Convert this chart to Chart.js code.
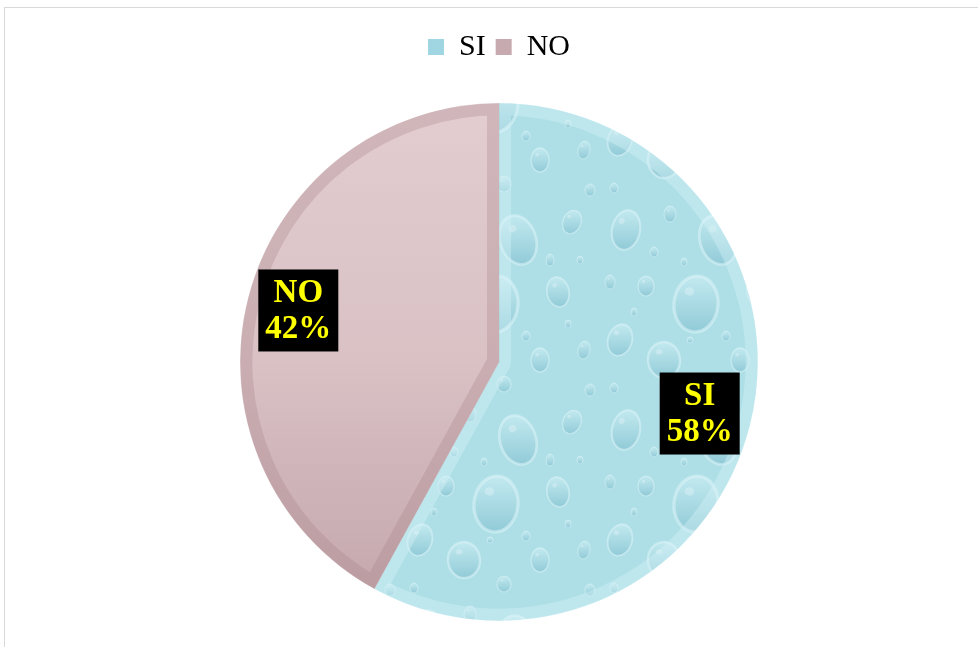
<!DOCTYPE html>
<html>
<head>
<meta charset="utf-8">
<script src="https://cdn.jsdelivr.net/npm/chart.js@4.4.1/dist/chart.umd.min.js"></script>
<style>
    html, body { margin: 0; padding: 0; background: #fff; }
    #frame { position: absolute; left: 4px; top: 7px; width: 974px; height: 640px; border-top: 1px solid #d9d9d9; border-left: 1px solid #d9d9d9; }
    #wrap { position: absolute; left: 0; top: 0; width: 978px; height: 647px; }
</style>
</head>
<body>
<div id="frame"></div>
<div id="wrap"><canvas id="pieChart" width="978" height="647"></canvas></div>
<script>
const categories = ['SI', 'NO'];
const values = [58, 42];

const legendColors = ['#9FD6E1', '#C6AAAF'];
const bevelColors = ['rgba(215, 242, 247, 0.40)', 'rgba(165, 128, 135, 0.30)'];
const serif = '"Liberation Serif", "Times New Roman", Times, serif';

// water drop texture for the SI slice
function waterPattern(ctx) {
    const c = document.createElement('canvas');
    c.width = 200;
    c.height = 200;
    const g = c.getContext('2d');
    g.fillStyle = '#AEDFE7';
    g.fillRect(0, 0, 200, 200);
    // x, y, rx, ry, tilt
    const drops = [
        [26, 30, 14, 20, 0.2], [70, 14, 6, 8, 0], [118, 40, 18, 25, -0.3], [172, 22, 9, 12, 0.4],
        [46, 86, 8, 10, 0], [96, 104, 22, 28, 0.1], [158, 92, 11, 15, -0.2], [20, 140, 12, 16, 0.3],
        [64, 160, 16, 18, -0.1], [140, 160, 9, 12, 0], [184, 150, 6, 9, 0.2], [104, 184, 7, 8, 0],
        [54, 52, 4, 5, 0], [150, 60, 4, 6, 0], [10, 82, 5, 7, 0], [84, 62, 3, 4, 0],
        [34, 112, 3, 4, 0], [126, 136, 4, 5, 0], [180, 60, 3, 4, 0], [190, 190, 5, 6, 0],
        [14, 188, 4, 5, 0], [168, 124, 3, 4, 0], [90, 140, 3, 3, 0]
    ];
    drops.forEach(([x, y, rx, ry, t]) => {
        const grad = g.createLinearGradient(0, y - ry, 0, y + ry);
        grad.addColorStop(0, '#C2E9EF');
        grad.addColorStop(0.65, '#A3D6E0');
        grad.addColorStop(1, '#90CAD7');
        g.fillStyle = grad;
        g.beginPath();
        g.ellipse(x, y, rx, ry, t, 0, Math.PI * 2);
        g.fill();
        g.strokeStyle = 'rgba(220, 244, 248, 0.55)';
        g.lineWidth = Math.max(1, rx * 0.15);
        g.stroke();
        g.fillStyle = 'rgba(255, 255, 255, 0.25)';
        g.beginPath();
        g.ellipse(x - rx * 0.3, y - ry * 0.45, rx * 0.22, ry * 0.15, t, 0, Math.PI * 2);
        g.fill();
    });
    return ctx.createPattern(c, 'repeat');
}

function sliceFill(context) {
    const chart = context.chart;
    const area = chart.chartArea;
    if (!area) return legendColors[context.dataIndex];
    if (context.dataIndex === 0) {
        if (!chart.$water) chart.$water = waterPattern(chart.ctx);
        return chart.$water;
    }
    const grad = chart.ctx.createLinearGradient(0, area.top, 0, area.bottom);
    grad.addColorStop(0, '#E3CDD0');
    grad.addColorStop(0.5, '#D9C1C4');
    grad.addColorStop(1, '#C2A5AA');
    return grad;
}

// push the pie down below the legend
const legendGap = {
    id: 'legendGap',
    beforeInit(chart) {
        const fit = chart.legend.fit;
        chart.legend.fit = function () {
            fit.call(this);
            this.height += 31;
        };
    }
};

// black boxes with yellow labels
const sliceLabels = {
    id: 'sliceLabels',
    afterDatasetsDraw(chart) {
        const ctx = chart.ctx;
        const meta = chart.getDatasetMeta(0);
        const total = values.reduce((a, b) => a + b, 0);
        meta.data.forEach((arc, i) => {
            const p = arc.getProps(['x', 'y', 'startAngle', 'endAngle', 'outerRadius'], true);
            const mid = (p.startAngle + p.endAngle) / 2;
            const r = p.outerRadius * 0.8;
            const cx = p.x + Math.cos(mid) * r;
            const cy = p.y + Math.sin(mid) * r;
            ctx.save();
            ctx.fillStyle = '#000';
            ctx.fillRect(cx - 40, cy - 41, 80, 82);
            ctx.fillStyle = '#FFFF00';
            ctx.font = 'bold 33px ' + serif;
            ctx.textAlign = 'center';
            ctx.textBaseline = 'middle';
            ctx.fillText(categories[i], cx, cy - 17);
            ctx.fillText(Math.round(values[i] / total * 100) + '%', cx, cy + 19);
            ctx.restore();
        });
    }
};

function drawChart() {
    const ctx = document.getElementById('pieChart').getContext('2d');
    new Chart(ctx, {
        type: 'pie',
        data: {
            labels: categories,
            datasets: [{
                data: values,
                backgroundColor: sliceFill,
                borderColor: bevelColors,
                borderWidth: 12,
                borderAlign: 'inner',
                hoverBorderWidth: 12
            }]
        },
        options: {
            responsive: false,
            animation: false,
            devicePixelRatio: 1,
            layout: {
                padding: { top: 22, bottom: 26, left: 30, right: 10 }
            },
            plugins: {
                legend: {
                    display: true,
                    position: 'top',
                    labels: {
                        boxWidth: 16,
                        boxHeight: 16,
                        padding: 10,
                        color: '#000',
                        font: { family: serif, size: 30 },
                        generateLabels(chart) {
                            return categories.map((c, i) => ({
                                text: c,
                                fillStyle: legendColors[i],
                                strokeStyle: legendColors[i],
                                lineWidth: 0,
                                fontColor: '#000',
                                hidden: !chart.getDataVisibility(i),
                                index: i
                            }));
                        }
                    }
                },
                tooltip: { enabled: false }
            }
        },
        plugins: [legendGap, sliceLabels]
    });
}

Promise.all([
    document.fonts.load('30px "Liberation Serif"'),
    document.fonts.load('bold 30px "Liberation Serif"')
]).then(drawChart, drawChart);
</script>
</body>
</html>
